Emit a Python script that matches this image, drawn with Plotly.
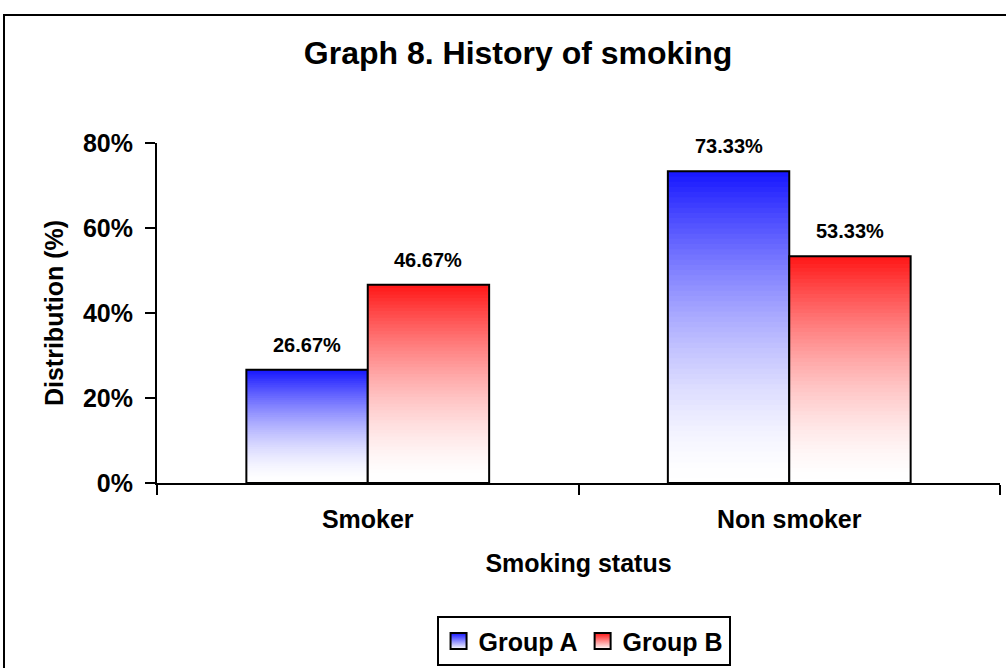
import plotly.graph_objects as go

categories = ["Smoker", "Non smoker"]
group_a = [0.2667, 0.7333]
group_b = [0.4667, 0.5333]
series_names = ["Group A", "Group B"]
y_ticks = [0, 0.2, 0.4, 0.6, 0.8]
y_tick_labels = ["0%", "20%", "40%", "60%", "80%"]

FONT = "Liberation Sans, Arial, sans-serif"
BAR_W = 0.288
N_LAYERS = 60
GAMMA = 1.6
top_colors = [(22, 22, 255), (255, 22, 22)]
offsets = [-BAR_W, 0.0]


def blend(c, t):
    t = t ** GAMMA
    return "rgb(%d,%d,%d)" % tuple(round(255 + (ci - 255) * t) for ci in c)


fig = go.Figure()

for s, (name, vals) in enumerate(zip(series_names, [group_a, group_b])):
    col = top_colors[s]
    # gradient layers
    for i in range(N_LAYERS):
        frac = (N_LAYERS - i) / N_LAYERS
        t = (N_LAYERS - i - 0.5) / N_LAYERS
        fig.add_trace(go.Bar(
            x=categories, y=[v * frac for v in vals], offset=offsets[s], width=BAR_W,
            marker=dict(color=blend(col, t), line=dict(width=0)),
            showlegend=False, hoverinfo="skip"))
    # outline
    fig.add_trace(go.Bar(
        x=categories, y=vals, offset=offsets[s], width=BAR_W,
        marker=dict(color="rgba(0,0,0,0)", line=dict(color="black", width=2)),
        showlegend=False, hovertemplate="%{y:.2%}<extra>" + name + "</extra>"))
    # legend swatch
    fig.add_trace(go.Scatter(
        x=[categories[0]], y=[None], mode="markers", name=name,
        marker=dict(symbol="square", size=16, color="rgb(%d,%d,%d)" % col,
                    gradient=dict(type="vertical", color="white"),
                    line=dict(color="black", width=2)),
        showlegend=True, hoverinfo="skip"))
    # value labels
    for xi, v in enumerate(vals):
        fig.add_annotation(
            x=xi + offsets[s] + BAR_W / 2, y=v, xref="x", yref="y",
            text="%.2f%%" % (v * 100), showarrow=False,
            yanchor="bottom", yshift=12,
            font=dict(family=FONT, size=20, color="black", weight="bold"))

fig.update_layout(
    width=1006, height=668, autosize=False,
    barmode="overlay",
    paper_bgcolor="white", plot_bgcolor="white",
    margin=dict(l=157, r=6, t=143, b=185, autoexpand=False),
    title=dict(text="Graph 8. History of smoking", x=0.515, xanchor="center",
               y=1 - 53 / 668, yanchor="middle", xref="container", yref="container",
               font=dict(family=FONT, size=32, color="black", weight="bold")),
    font=dict(family=FONT, color="black"),
    legend=dict(orientation="h", x=0.506, xanchor="center", y=-0.392, yanchor="top",
                bordercolor="black", borderwidth=2, bgcolor="white",
                font=dict(family=FONT, size=25, color="black", weight="bold"),
                itemsizing="trace", traceorder="normal"),
    showlegend=True,
)

fig.update_xaxes(
    type="category", categoryorder="array", categoryarray=categories,
    range=[-0.5, 1.5], showline=True, linecolor="black", linewidth=2,
    ticks="outside", ticklen=10, tickwidth=2, tickcolor="black", tickson="boundaries",
    showgrid=False, zeroline=False, automargin=False,
    tickfont=dict(family=FONT, size=25, color="black", weight="bold"),
    ticklabelstandoff=13,
    title=dict(text="Smoking status", standoff=22,
               font=dict(family=FONT, size=25, color="black", weight="bold")),
)
fig.update_yaxes(
    range=[0, 0.8], tickvals=y_ticks, ticktext=y_tick_labels,
    showline=True, linecolor="black", linewidth=2,
    ticks="outside", ticklen=10, tickwidth=2, tickcolor="black",
    showgrid=False, zeroline=False, automargin=False,
    tickfont=dict(family=FONT, size=25, color="black", weight="bold"),
    ticklabelstandoff=7,
    title=dict(text="Distribution (%)", standoff=12,
               font=dict(family=FONT, size=25, color="black", weight="bold")),
)

# outer chart border
fig.add_shape(type="rect", xref="paper", yref="paper",
              x0=(4 - 157) / 843, x1=(1030 - 157) / 843,
              y0=(483 - 690) / 340, y1=(483 - 15) / 340,
              line=dict(color="black", width=2), fillcolor="rgba(0,0,0,0)", layer="below")

fig.write_html("out.html")
